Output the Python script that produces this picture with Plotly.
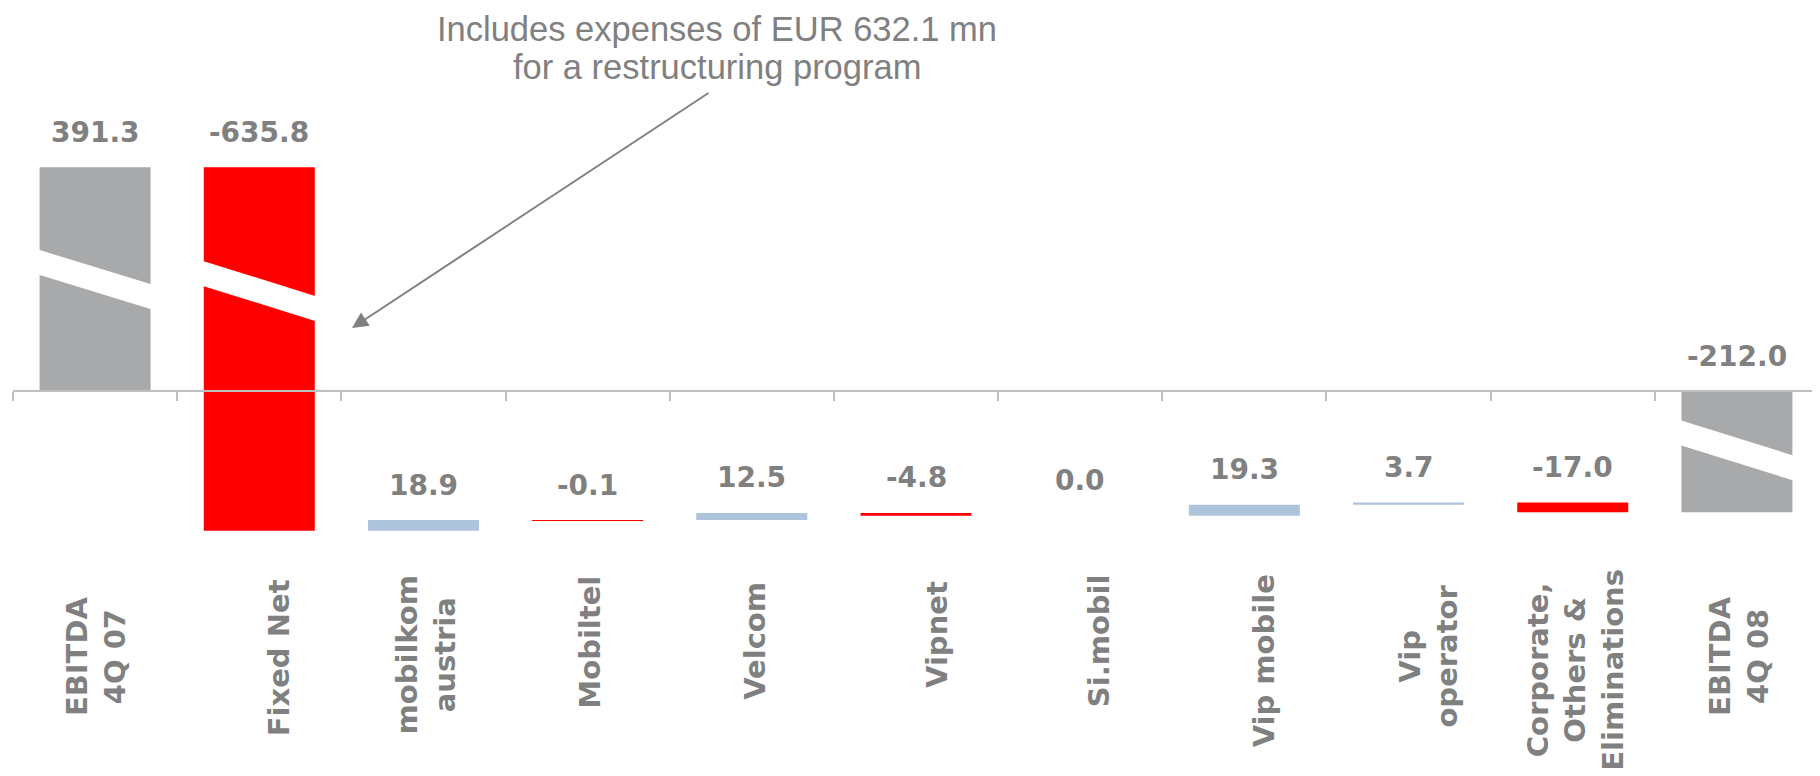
import plotly.graph_objects as go

# ---------------- data ----------------
categories = ["EBITDA 4Q 07", "Fixed Net", "mobilkom austria", "Mobiltel", "Velcom",
              "Vipnet", "Si.mobil", "Vip mobile", "Vip operator",
              "Corporate, Others & Eliminations", "EBITDA 4Q 08"]
category_labels = ["EBITDA<br>4Q 07", "Fixed Net", "mobilkom<br>austria", "Mobiltel", "Velcom",
                   "Vipnet", "Si.mobil", "Vip mobile", "Vip<br>operator",
                   "Corporate,<br>Others &<br>Eliminations", "EBITDA<br>4Q 08"]
values = [391.3, -635.8, 18.9, -0.1, 12.5, -4.8, 0.0, 19.3, 3.7, -17.0, -212.0]
measures = ["absolute"] + ["relative"] * 9 + ["total"]
value_labels = ["391.3", "-635.8", "18.9", "-0.1", "12.5", "-4.8", "0.0", "19.3", "3.7", "-17.0", "-212.0"]
note_lines = ["Includes expenses of EUR 632.1 mn", "for a restructuring program"]

# ---------------- layout geometry ----------------
# The page body adds an 8px margin, so the figure is made 8px smaller and
# all screen-pixel positions below are measured in window coordinates.
OFF = 8
SCREEN_W, SCREEN_H = 1820, 776
W, H = SCREEN_W - OFF, SCREEN_H - OFF
PL, PR = 13, 1819            # plot area left/right (screen px)
Y0 = 391.0                   # screen row of zero line
S = 0.572                    # pixels per EUR mn
STEP = (PR - PL) / len(categories)

def px2y(py):
    return (Y0 - py) / S

def px2x(px):
    return (px - PL) / STEP - 0.5

GRAY_TXT = "#808080"
AXIS_C = "#BFBFBF"

fig = go.Figure()
fig.add_trace(go.Waterfall(
    x=categories, y=values, measure=measures,
    increasing=dict(marker=dict(color="#ADC4DC", line=dict(width=0))),
    decreasing=dict(marker=dict(color="#FF0000", line=dict(width=0))),
    totals=dict(marker=dict(color="#A8A9AB", line=dict(width=0))),
    connector=dict(visible=False),
    textposition="none", hoverinfo="skip", showlegend=False,
))

# value labels above each bar's top
run = 0.0
tops = []
for m, v in zip(measures, values):
    if m == "absolute":
        start, end = 0.0, v
        run = v
    elif m == "total":
        start, end = 0.0, run
    else:
        start, end = run, run + v
        run = run + v
    tops.append(max(start, end))

for c, t, lab in zip(categories, tops, value_labels):
    fig.add_annotation(x=c, y=t, text=lab, showarrow=False, yanchor="middle", yshift=35,
                       font=dict(family="DejaVu Sans", size=28, color=GRAY_TXT, weight="bold"))

# category labels (rotated)
label_centers_px = [656, 658, 655, 642, 641, 635, 641, 661, 656, 670, 656]
label_xshift = [1, 20, 3, 2, 3, 21, 19, 20, 20, 2, 2]
for c, lab, cy, xs in zip(categories, category_labels, label_centers_px, label_xshift):
    fig.add_annotation(x=c, y=px2y(cy), text=lab, showarrow=False, textangle=-90,
                       xanchor="center", yanchor="middle", xshift=xs, align="center",
                       font=dict(family="DejaVu Sans", size=29, color=GRAY_TXT, weight="bold"))

# axis-break marks (white slanted bands)
breaks = [(0, 279.5, 0.306), (1, 291.0, 0.3125), (10, 450.3, 0.3125)]
half_px = 70
thick = 25
for idx, yc, slope in breaks:
    cx = PL + (idx + 0.5) * STEP
    xl, xr = cx - half_px, cx + half_px
    yl, yr = yc - slope * half_px, yc + slope * half_px
    path = (f"M {px2x(xl)},{px2y(yl - thick/2)} L {px2x(xr)},{px2y(yr - thick/2)} "
            f"L {px2x(xr)},{px2y(yr + thick/2)} L {px2x(xl)},{px2y(yl + thick/2)} Z")
    fig.add_shape(type="path", path=path, xref="x", yref="y", fillcolor="white",
                  line=dict(width=0), layer="above")

# note with arrow
for line, cy in zip(note_lines, [29, 67]):
    fig.add_annotation(x=px2x(717), y=px2y(cy), text=line, showarrow=False,
                       xanchor="center", yanchor="middle",
                       font=dict(family="Liberation Sans", size=34.5, color=GRAY_TXT))
fig.add_annotation(x=px2x(352), y=px2y(328), ax=px2x(710), ay=px2y(92),
                   axref="x", ayref="y", text="", showarrow=True,
                   arrowhead=2, arrowsize=1.6, arrowwidth=2, arrowcolor=GRAY_TXT)

fig.update_layout(
    width=W, height=H, autosize=False,
    margin=dict(l=PL - OFF, r=W - (PR - OFF), t=0, b=0, pad=0),
    paper_bgcolor="white", plot_bgcolor="white",
    waterfallgap=0.324,
    xaxis=dict(type="category", range=[-0.5, len(categories) - 0.5],
               anchor="free", position=1 - (Y0 - OFF) / H, automargin=False,
               showline=True, linecolor=AXIS_C, linewidth=2,
               ticks="outside", tickson="boundaries", ticklen=9, tickwidth=1.5, tickcolor=AXIS_C,
               showticklabels=False, showgrid=False, zeroline=False, fixedrange=True),
    yaxis=dict(range=[px2y(SCREEN_H), px2y(OFF)], visible=False, showgrid=False, automargin=False,
               zeroline=False, fixedrange=True),
)

fig.write_html("out.html")
